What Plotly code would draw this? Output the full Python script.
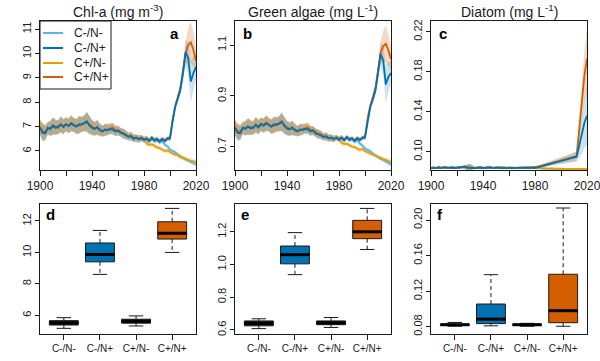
import plotly.graph_objects as go

# ---------------- data ----------------
scenarios = ["C-/N-", "C-/N+", "C+/N-", "C+/N+"]
line_colors = ["#56B4E9", "#0072B2", "#E69F00", "#D55E00"]
band_colors = ["rgba(86,180,233,0.26)", "rgba(0,114,178,0.2)",
               "rgba(230,159,0,0.24)", "rgba(213,94,0,0.24)"]
box_fill = ["#222222", "#0072B2", "#222222", "#D55E00"]

years_hist = list(range(1900, 1981, 2))
years_fut = list(range(1980, 2021, 2))
x_major_ticks = [1900, 1940, 1980, 2020]
x_minor_ticks = [1920, 1960, 2000]

# Panel a: Chl-a
chl_hist_cminus = [6.95, 6.75, 6.72, 6.95, 6.9, 7.05, 6.95, 7.0, 7.08, 6.98, 7.1, 7.02, 7.12, 7.05,
                   7.0, 7.1, 7.08, 7.15, 7.22, 7.05, 6.95, 6.9, 6.98, 6.85, 6.8, 6.88, 6.85, 6.9,
                   6.88, 6.8, 6.85, 6.75, 6.72, 6.65, 6.58, 6.62, 6.5, 6.55, 6.48, 6.52, 6.45]
chl_hist_cplus = [7.0, 6.8, 6.78, 6.92, 6.95, 7.0, 7.0, 6.95, 7.1, 7.02, 7.08, 7.05, 7.15, 7.08,
                  7.02, 7.05, 7.1, 7.12, 7.18, 7.08, 6.98, 6.92, 6.95, 6.9, 6.82, 6.85, 6.9, 6.92,
                  6.95, 6.85, 6.82, 6.78, 6.7, 6.68, 6.6, 6.58, 6.55, 6.52, 6.5, 6.55, 6.48]
chl_fut_cn_nn = [6.45, 6.5, 6.4, 6.5, 6.42, 6.45, 6.35, 6.4, 6.25, 6.2, 6.05, 6.0, 5.95, 5.85,
                 5.78, 5.7, 5.65, 5.6, 5.55, 5.5, 5.45]
chl_fut_cn_np = [6.45, 6.5, 6.4, 6.55, 6.42, 6.5, 6.38, 6.48, 6.4, 6.52, 6.5, 7.2, 7.8, 8.15,
                 8.5, 9.2, 10.05, 9.8, 8.85, 9.2, 9.45]
chl_fut_cp_nn = [6.48, 6.3, 6.25, 6.28, 6.2, 6.15, 6.12, 6.05, 6.0, 6.02, 5.95, 5.9, 5.85, 5.82,
                 5.75, 5.72, 5.68, 5.62, 5.6, 5.58, 5.55]
chl_fut_cp_np = [6.48, 6.52, 6.45, 6.5, 6.48, 6.45, 6.42, 6.5, 6.45, 6.48, 6.55, 7.3, 7.85, 8.2,
                 8.6, 9.3, 10.0, 10.35, 10.45, 10.15, 9.7]
chl_hw_hist = [0.3, 0.35, 0.3, 0.25, 0.3, 0.35, 0.3, 0.28, 0.32, 0.3, 0.28, 0.3, 0.32, 0.28, 0.3,
               0.35, 0.3, 0.32, 0.4, 0.35, 0.3, 0.28, 0.3, 0.25, 0.22, 0.25, 0.22, 0.2, 0.22, 0.2,
               0.2, 0.18, 0.2, 0.18, 0.15, 0.18, 0.15, 0.15, 0.15, 0.12, 0.12]
chl_hw_fut_nminus = [0.12, 0.12, 0.1, 0.1, 0.1, 0.1, 0.1, 0.1, 0.1, 0.1, 0.1, 0.1, 0.1, 0.1,
                     0.1, 0.1, 0.1, 0.1, 0.1, 0.1, 0.1]
chl_hw_fut_nplus = [0.12, 0.12, 0.1, 0.1, 0.1, 0.1, 0.1, 0.1, 0.1, 0.1, 0.1, 0.12, 0.15, 0.15,
                    0.2, 0.3, 0.5, 0.7, 0.85, 0.7, 0.5]

# Panel b: Green algae
ga_hist_cminus = [0.772, 0.755, 0.752, 0.775, 0.77, 0.78, 0.772, 0.776, 0.785, 0.775, 0.79, 0.782,
                  0.792, 0.785, 0.778, 0.788, 0.785, 0.792, 0.8, 0.782, 0.772, 0.768, 0.776, 0.765,
                  0.76, 0.768, 0.765, 0.77, 0.768, 0.76, 0.765, 0.752, 0.75, 0.745, 0.738, 0.742,
                  0.732, 0.736, 0.73, 0.735, 0.728]
ga_hist_cplus = [0.778, 0.76, 0.758, 0.772, 0.775, 0.778, 0.778, 0.772, 0.788, 0.78, 0.786, 0.784,
                 0.795, 0.788, 0.78, 0.784, 0.79, 0.79, 0.796, 0.786, 0.775, 0.77, 0.772, 0.768,
                 0.762, 0.765, 0.77, 0.772, 0.775, 0.765, 0.762, 0.758, 0.75, 0.748, 0.74, 0.738,
                 0.736, 0.733, 0.73, 0.736, 0.73]
ga_fut_cn_nn = [0.728, 0.735, 0.725, 0.735, 0.726, 0.73, 0.72, 0.725, 0.712, 0.705, 0.692, 0.688,
                0.682, 0.672, 0.665, 0.658, 0.652, 0.648, 0.642, 0.636, 0.63]
ga_fut_cn_np = [0.728, 0.735, 0.725, 0.738, 0.726, 0.734, 0.722, 0.732, 0.725, 0.736, 0.735, 0.8,
                0.855, 0.885, 0.92, 0.99, 1.065, 1.04, 0.945, 0.975, 0.99]
ga_fut_cp_nn = [0.73, 0.715, 0.71, 0.712, 0.705, 0.7, 0.698, 0.692, 0.688, 0.69, 0.682, 0.678,
                0.672, 0.67, 0.664, 0.66, 0.656, 0.65, 0.648, 0.645, 0.64]
ga_fut_cp_np = [0.73, 0.736, 0.73, 0.735, 0.732, 0.73, 0.726, 0.734, 0.73, 0.732, 0.74, 0.81,
                0.86, 0.895, 0.93, 1.0, 1.07, 1.095, 1.105, 1.08, 1.045]
ga_hw_hist = [0.028, 0.032, 0.028, 0.024, 0.028, 0.032, 0.028, 0.026, 0.03, 0.028, 0.026, 0.028,
              0.03, 0.026, 0.028, 0.032, 0.028, 0.03, 0.036, 0.032, 0.028, 0.026, 0.028, 0.023,
              0.02, 0.023, 0.02, 0.018, 0.02, 0.018, 0.018, 0.016, 0.018, 0.016, 0.014, 0.016,
              0.014, 0.014, 0.013, 0.011, 0.011]
ga_hw_fut_nminus = [0.011, 0.011, 0.009, 0.009, 0.009, 0.009, 0.009, 0.009, 0.009, 0.009, 0.009,
                    0.009, 0.009, 0.009, 0.009, 0.009, 0.009, 0.009, 0.009, 0.009, 0.009]
ga_hw_fut_nplus = [0.011, 0.011, 0.009, 0.009, 0.009, 0.009, 0.009, 0.009, 0.009, 0.009, 0.009,
                   0.011, 0.014, 0.014, 0.018, 0.027, 0.045, 0.06, 0.075, 0.06, 0.045]

# Panel c: Diatom
dt_hist_cminus = [0.0835, 0.084, 0.0838, 0.0842, 0.0836, 0.0845, 0.0838, 0.084, 0.0843, 0.0837,
                  0.0841, 0.0838, 0.0846, 0.085, 0.0842, 0.0838, 0.0841, 0.0836, 0.0839, 0.0842,
                  0.0837, 0.084, 0.0838, 0.0843, 0.0836, 0.0839, 0.0841, 0.0837, 0.084, 0.0836,
                  0.0838, 0.0841, 0.0837, 0.0839, 0.0836, 0.0838, 0.084, 0.0837, 0.0836, 0.0838,
                  0.0837]
dt_hist_cplus = [0.0838, 0.0842, 0.0836, 0.0845, 0.0839, 0.0841, 0.0844, 0.0837, 0.0842, 0.084,
                 0.0838, 0.0843, 0.0848, 0.0846, 0.0841, 0.0839, 0.0844, 0.0838, 0.0842, 0.0839,
                 0.0841, 0.0838, 0.0843, 0.0839, 0.0837, 0.0842, 0.0838, 0.0841, 0.0843, 0.0838,
                 0.0841, 0.0839, 0.0842, 0.0838, 0.0841, 0.0839, 0.0843, 0.084, 0.0842, 0.0845,
                 0.0843]
dt_fut_cn_nn = [0.0837, 0.0834, 0.0832, 0.0833, 0.0831, 0.083, 0.0831, 0.0829, 0.083, 0.0828,
                0.0829, 0.0828, 0.0827, 0.0828, 0.0826, 0.0827, 0.0826, 0.0825, 0.0826, 0.0825,
                0.0824]
dt_fut_cn_np = [0.0837, 0.0845, 0.0852, 0.086, 0.0866, 0.0873, 0.088, 0.0886, 0.0892, 0.09,
                0.0906, 0.0913, 0.092, 0.0927, 0.0934, 0.0942, 0.095, 0.106, 0.118, 0.129, 0.136]
dt_fut_cp_nn = [0.0843, 0.0836, 0.0833, 0.0834, 0.0832, 0.0831, 0.0832, 0.083, 0.0831, 0.0829,
                0.083, 0.0829, 0.0828, 0.0829, 0.0827, 0.0828, 0.0827, 0.0826, 0.0827, 0.0826,
                0.0825]
dt_fut_cp_np = [0.0843, 0.085, 0.0857, 0.0864, 0.087, 0.0877, 0.0884, 0.089, 0.0897, 0.0904,
                0.091, 0.0917, 0.0924, 0.0931, 0.0939, 0.0947, 0.0956, 0.122, 0.149, 0.176, 0.193]
dt_hw_hist = [0.001, 0.001, 0.001, 0.001, 0.001, 0.001, 0.001, 0.001, 0.001, 0.001, 0.001, 0.001,
              0.001, 0.0015, 0.003, 0.004, 0.002, 0.001, 0.001, 0.001, 0.001, 0.001, 0.001, 0.001,
              0.001, 0.001, 0.001, 0.001, 0.001, 0.001, 0.001, 0.001, 0.001, 0.001, 0.001, 0.001,
              0.001, 0.001, 0.001, 0.001, 0.001]
dt_hw_fut_nminus = [0.001, 0.001, 0.001, 0.001, 0.001, 0.001, 0.001, 0.001, 0.001, 0.001, 0.001,
                    0.001, 0.001, 0.001, 0.001, 0.001, 0.001, 0.001, 0.001, 0.001, 0.001]
dt_hw_fut_nplus = [0.001, 0.0012, 0.0014, 0.0016, 0.0018, 0.002, 0.0022, 0.0024, 0.0026, 0.0028,
                   0.003, 0.0032, 0.0035, 0.0038, 0.004, 0.0045, 0.005, 0.012, 0.02, 0.025, 0.03]

# Box panels d, e, f  (order: C-/N-, C-/N+, C+/N-, C+/N+)
chl_lo = [5.17, 8.6, 5.32, 10.0]
chl_q1 = [5.38, 9.4, 5.5, 10.85]
chl_med = [5.52, 9.87, 5.62, 11.22]
chl_q3 = [5.66, 10.6, 5.75, 11.95]
chl_hi = [5.85, 11.4, 5.96, 12.8]

ga_lo = [0.608, 0.938, 0.615, 1.092]
ga_q1 = [0.625, 1.004, 0.632, 1.158]
ga_med = [0.64, 1.06, 0.643, 1.2]
ga_q3 = [0.655, 1.113, 0.655, 1.27]
ga_hi = [0.668, 1.195, 0.676, 1.343]

dt_lo = [0.0805, 0.081, 0.0805, 0.0805]
dt_q1 = [0.0815, 0.0835, 0.0815, 0.0845]
dt_med = [0.0822, 0.0885, 0.0822, 0.098]
dt_q3 = [0.083, 0.1055, 0.083, 0.139]
dt_hi = [0.0848, 0.1385, 0.0838, 0.2135]

# ---------------- layout geometry ----------------
W, H = 600, 361
col_px = [(40, 196), (235, 391), (431, 587)]
top_px = (21, 170)
bot_px = (204, 334)


def xdom(c):
    return [col_px[c][0] / W, col_px[c][1] / W]


def ydom(r):
    return [1 - r[1] / H, 1 - r[0] / H]


FONT = "Liberation Sans, Arial, sans-serif"
INK = "#1a1a1a"

fig = go.Figure()

years_all = years_hist + years_fut[1:]

panels_ts = [
    ("x", "y", chl_hist_cminus, chl_hist_cplus,
     [chl_fut_cn_nn, chl_fut_cn_np, chl_fut_cp_nn, chl_fut_cp_np],
     chl_hw_hist, chl_hw_fut_nminus, chl_hw_fut_nplus),
    ("x2", "y2", ga_hist_cminus, ga_hist_cplus,
     [ga_fut_cn_nn, ga_fut_cn_np, ga_fut_cp_nn, ga_fut_cp_np],
     ga_hw_hist, ga_hw_fut_nminus, ga_hw_fut_nplus),
    ("x3", "y3", dt_hist_cminus, dt_hist_cplus,
     [dt_fut_cn_nn, dt_fut_cn_np, dt_fut_cp_nn, dt_fut_cp_np],
     dt_hw_hist, dt_hw_fut_nminus, dt_hw_fut_nplus),
]

band_order = [0, 2, 1, 3]
line_order = [0, 2, 3, 1]
for pi, (xa, ya, h_cm, h_cp, futs, hw_h, hw_nm, hw_np) in enumerate(panels_ts):
    means, hws = [], []
    for s in range(4):
        hist = h_cm if s < 2 else h_cp
        means.append(hist + futs[s][1:])
        hws.append(hw_h + (hw_np if s % 2 == 1 else hw_nm)[1:])
    for s in band_order:
        up = [m + h for m, h in zip(means[s], hws[s])]
        lo = [m - h for m, h in zip(means[s], hws[s])]
        fig.add_trace(go.Scatter(
            x=years_all + years_all[::-1], y=up + lo[::-1], fill="toself",
            fillcolor=band_colors[s], line=dict(width=0), mode="lines",
            hoverinfo="skip", showlegend=False, xaxis=xa, yaxis=ya))
    for s in line_order:
        fig.add_trace(go.Scatter(
            x=years_all, y=means[s], mode="lines",
            line=dict(color=line_colors[s], width=1.8),
            name=scenarios[s], showlegend=False, hoverinfo="skip", xaxis=xa, yaxis=ya))

box_sets = [
    ("x4", "y4", chl_lo, chl_q1, chl_med, chl_q3, chl_hi),
    ("x5", "y5", ga_lo, ga_q1, ga_med, ga_q3, ga_hi),
    ("x6", "y6", dt_lo, dt_q1, dt_med, dt_q3, dt_hi),
]
positions = [1, 2, 3, 4]
for xa, ya, lo, q1, med, q3, hi in box_sets:
    wx, wy, cx, cy, mx, my = [], [], [], [], [], []
    for i, p in enumerate(positions):
        fig.add_trace(go.Box(
            x=[p], q1=[q1[i]], median=[med[i]], q3=[q3[i]],
            lowerfence=[q1[i]], upperfence=[q3[i]], width=0.8,
            fillcolor=box_fill[i], line=dict(color=INK, width=1),
            whiskerwidth=0, boxpoints=False, showlegend=False,
            hoverinfo="skip", xaxis=xa, yaxis=ya))
        wx += [p, p, None, p, p, None]
        wy += [q3[i], hi[i], None, q1[i], lo[i], None]
        cx += [p - 0.2, p + 0.2, None, p - 0.2, p + 0.2, None]
        cy += [hi[i], hi[i], None, lo[i], lo[i], None]
        mx += [p - 0.4, p + 0.4, None]
        my += [med[i], med[i], None]
    fig.add_trace(go.Scatter(x=wx, y=wy, mode="lines", line=dict(color=INK, width=1, dash="4px,3px"),
                             showlegend=False, hoverinfo="skip", xaxis=xa, yaxis=ya))
    fig.add_trace(go.Scatter(x=cx, y=cy, mode="lines", line=dict(color=INK, width=1),
                             showlegend=False, hoverinfo="skip", xaxis=xa, yaxis=ya))
    fig.add_trace(go.Scatter(x=mx, y=my, mode="lines", line=dict(color="black", width=3),
                             showlegend=False, hoverinfo="skip", xaxis=xa, yaxis=ya))

# ---------------- axes ----------------
common = dict(showline=True, linecolor=INK, linewidth=1, mirror=True, ticks="outside",
              ticklen=5, tickcolor=INK, tickwidth=1, showgrid=False, zeroline=False,
              automargin=False, fixedrange=True, ticklabeloverflow="allow",
              tickfont=dict(family=FONT, size=12, color=INK))

yranges = [[5.22, 11.33], [0.608, 1.195], [0.0817, 0.2307],
           [4.81, 13.08], [0.575, 1.37], [0.0718, 0.218]]
yticks = [[6, 7, 8, 9, 10, 11], [0.7, 0.9, 1.1], [0.10, 0.14, 0.18, 0.22],
          [6, 8, 10, 12], [0.6, 0.8, 1.0, 1.2], [0.08, 0.12, 0.16, 0.20]]
ytext = [["6", "7", "8", "9", "10", "11"], ["0.7", "0.9", "1.1"],
         ["0.10", "0.14", "0.18", "0.22"], ["6", "8", "10", "12"],
         ["0.6", "0.8", "1.0", "1.2"], ["0.08", "0.12", "0.16", "0.20"]]

layout = {}
for k in range(6):
    c = k % 3
    row = top_px if k < 3 else bot_px
    sfx = "" if k == 0 else str(k + 1)
    if k < 3:
        xa = dict(common, domain=xdom(c), range=[1900, 2020], tickmode="array",
                  tickvals=x_major_ticks, ticktext=[str(v) for v in x_major_ticks],
                  minor=dict(tickmode="array", tickvals=x_minor_ticks, ticks="outside",
                             ticklen=5, tickcolor=INK, tickwidth=1, showgrid=False),
                  anchor="y" + sfx)
    else:
        xa = dict(common, domain=xdom(c), range=[0.34, 4.66], tickmode="array",
                  tickvals=positions, ticktext=scenarios, anchor="y" + sfx,
                  tickfont=dict(family=FONT, size=10, color=INK))
    ya = dict(common, domain=ydom(row), range=yranges[k], tickmode="array",
              tickvals=yticks[k], ticktext=ytext[k], tickangle=-90, ticklen=4,
              tickfont=dict(family=FONT, size=11, color=INK),
              anchor="x" + sfx)
    layout["xaxis" + sfx] = xa
    layout["yaxis" + sfx] = ya

titles = ["Chl-a (mg m<sup>-3</sup>)", "Green algae (mg L<sup>-1</sup>)", "Diatom (mg L<sup>-1</sup>)"]
annotations = []
for c in range(3):
    annotations.append(dict(text=titles[c], x=(col_px[c][0] + col_px[c][1]) / 2 / W, y=1 - 11 / H,
                            xref="paper", yref="paper", showarrow=False,
                            font=dict(family=FONT, size=14, color=INK),
                            xanchor="center", yanchor="middle"))
letters = [("a", 168, 33), ("b", 241, 33), ("c", 437, 33), ("d", 44, 214), ("e", 239, 214), ("f", 435, 214)]
for t, px, py in letters:
    annotations.append(dict(text="<b>%s</b>" % t, x=px / W, y=1 - py / H, xref="paper", yref="paper",
                            showarrow=False, font=dict(family=FONT, size=15, color="black"),
                            xanchor="left", yanchor="middle"))

# legend (drawn inside panel a, in paper pixels)
lx0, lx1, ly0, ly1 = 40 / W, 111 / W, 1 - 89 / H, 1 - 21 / H
shapes = [
    dict(type="rect", xref="paper", yref="paper", x0=lx0, x1=lx1, y0=ly0, y1=ly1,
         line=dict(color=INK, width=1), fillcolor="white", layer="above"),
]
leg_y = [33, 48, 63, 77]
for s in range(4):
    yy = 1 - leg_y[s] / H
    shapes.append(dict(type="line", xref="paper", yref="paper", x0=43 / W, x1=63 / W,
                       y0=yy, y1=yy, line=dict(color=line_colors[s], width=2), layer="above"))
    annotations.append(dict(text=scenarios[s], x=72 / W, y=yy, xref="paper", yref="paper",
                            showarrow=False, font=dict(family=FONT, size=12, color=INK),
                            xanchor="left", yanchor="middle"))

fig.update_layout(
    width=W, height=H, autosize=False, margin=dict(l=0, r=0, t=0, b=0, pad=0),
    paper_bgcolor="white", plot_bgcolor="white",
    font=dict(family=FONT, color=INK),
    annotations=annotations, shapes=shapes,
    boxmode="overlay", showlegend=False, hovermode=False,
    **layout,
)

fig.write_html(
    "out.html",
    config={"displayModeBar": False, "responsive": False, "staticPlot": True},
    post_script=("document.documentElement.style.margin='0px';"
                 "document.documentElement.style.overflow='hidden';"
                 "document.body.style.margin='0px';document.body.style.padding='0px';"
                 "document.body.style.overflow='hidden';"),
)
